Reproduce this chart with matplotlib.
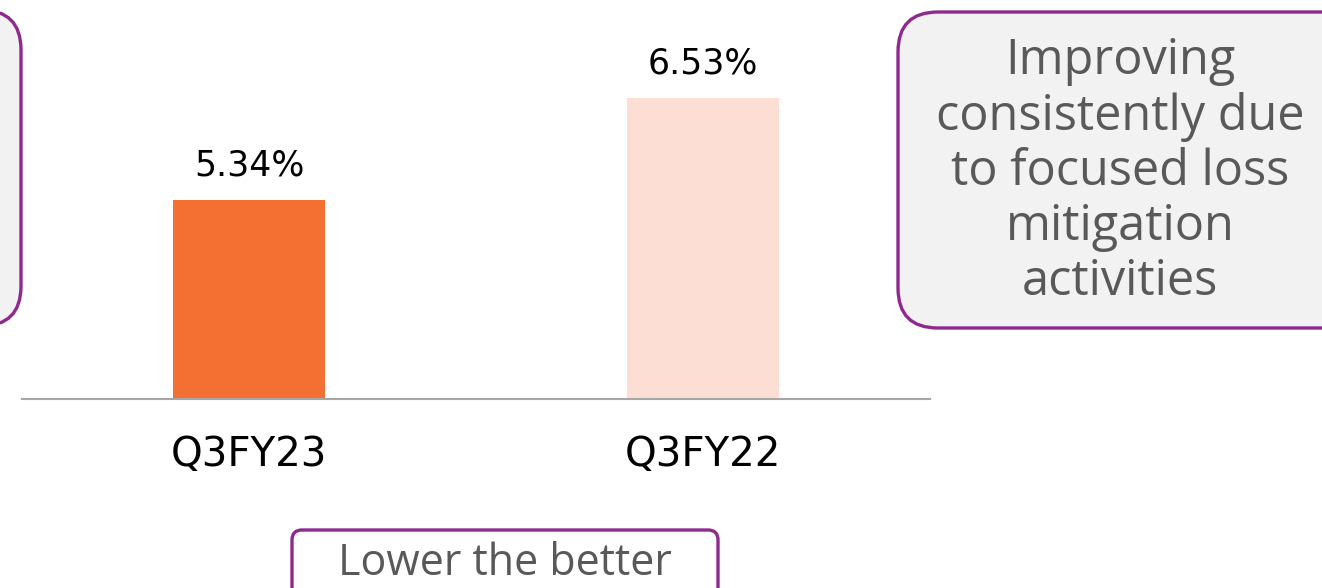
import matplotlib.pyplot as plt
from matplotlib.patches import FancyBboxPatch

# data
categories = ['Q3FY23', 'Q3FY22']
values = [5.34, 6.53]
bar_colors = ['#F37032', '#FCDED5']
note_text = 'Improving\nconsistently due\nto focused loss\nmitigation\nactivities'
footer_text = 'Lower the better'

W, H = 1322, 588
fig = plt.figure(figsize=(W / 100, H / 100), dpi=100)
fig.patch.set_facecolor('white')

# axes spans px 22..930 horizontally, baseline at y=399
ax = fig.add_axes([22 / W, (H - 399) / H, (930 - 22) / W, (399 - 20) / H])
x = range(len(categories))
ax.bar(x, values, width=0.334, color=bar_colors, zorder=2)
ax.set_xlim(-0.5, 1.5)
ax.set_ylim(3.02, 7.44)

for i, v in zip(x, values):
    ax.text(i, v + 0.2, f'{v:.2f}%', ha='center', va='bottom',
            fontsize=25, color='black', family='DejaVu Sans')

for s in ['top', 'right', 'left']:
    ax.spines[s].set_visible(False)
ax.spines['bottom'].set_color('#A6A6A6')
ax.spines['bottom'].set_linewidth(1.5)
ax.set_yticks([])
ax.set_xticks(list(x))
ax.set_xticklabels(categories, fontsize=29, family='DejaVu Sans')
ax.tick_params(axis='x', length=0, pad=26)


def rbox(x0, y0, x1, y1, fill, rad):
    # coordinates in pixels from top-left
    p = FancyBboxPatch((x0 / W, (H - y1) / H), (x1 - x0) / W, (y1 - y0) / H,
                       boxstyle=f'round,pad=0,rounding_size={rad / W}',
                       transform=fig.transFigure, facecolor=fill,
                       edgecolor='#8E2A8E', linewidth=2.4,
                       mutation_aspect=W / H, clip_on=False)
    fig.add_artist(p)


rbox(-60, 10, 21, 326, '#F2F2F2', 40)
rbox(898, 12, 1380, 328, '#F2F2F2', 40)
rbox(292, 530, 718, 620, 'white', 10)

fig.text(1120 / W, 1 - 172 / H, note_text, ha='center', va='center',
         fontsize=35, color='#595959', family='Open Sans', linespacing=1.15)
fig.text(505 / W, 1 - 564 / H, footer_text, ha='center', va='center',
         fontsize=31, color='#595959', family='Open Sans')

fig.savefig('out.png', dpi=100)
